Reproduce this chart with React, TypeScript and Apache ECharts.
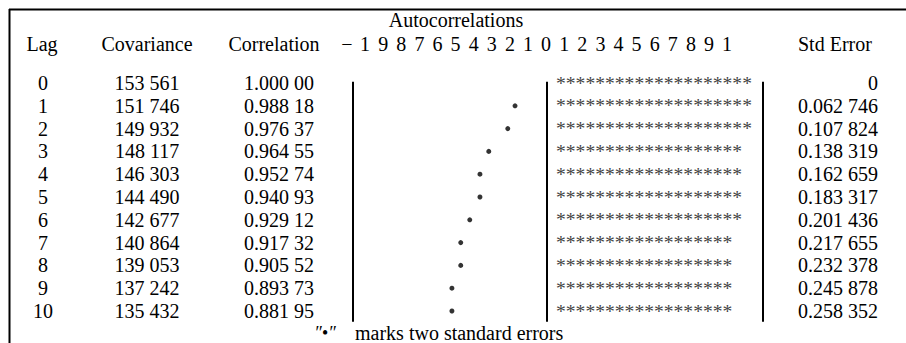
import React, { useEffect, useRef } from "react";
import * as echarts from "echarts";

const lags = [0, 1, 2, 3, 4, 5, 6, 7, 8, 9, 10];
const covariances = [153561, 151746, 149932, 148117, 146303, 144490, 142677, 140864, 139053, 137242, 135432];
const correlations = [1.0, 0.98818, 0.97637, 0.96455, 0.95274, 0.94093, 0.92912, 0.91732, 0.90552, 0.89373, 0.88195];
const stdErrors = [0, 0.062746, 0.107824, 0.138319, 0.162659, 0.183317, 0.201436, 0.217655, 0.232378, 0.245878, 0.258352];
const asteriskCounts = [20, 20, 20, 19, 19, 19, 19, 18, 18, 18, 18];
const twoStdErrMarks: (number | null)[] = [null, -0.158, -0.195, -0.292, -0.337, -0.337, -0.389, -0.435, -0.435, -0.48, -0.48];
const scaleLabels = ["−", "1", "9", "8", "7", "6", "5", "4", "3", "2", "1", "0", "1", "2", "3", "4", "5", "6", "7", "8", "9", "1"];
const columnHeaders = ["Lag", "Covariance", "Correlation", "Std Error"];
const titleText = "Autocorrelations";
const footnoteText = "marks two standard errors";

const FONT = "Liberation Serif, Times New Roman, serif";
const FS = 20;

function groupInt(n: number) {
  return String(n).replace(/\B(?=(\d{3})+(?!\d))/g, " ");
}
function groupDec(v: number, d: number) {
  if (v === 0 && d === 6) return "0";
  const s = v.toFixed(d);
  const [a, b] = s.split(".");
  return a + "." + b.slice(0, 3) + " " + b.slice(3);
}

export default function App() {
  const ref = useRef<HTMLDivElement>(null);
  useEffect(() => {
    const chart = echarts.init(ref.current!, null, { renderer: "svg" });
    const gridLeft = 350;
    const gridWidth = 392;
    const gridTop = 71.6;
    const gridHeight = 250.8;
    const lineTop = 81.7;
    const lineBottom = 321.7;
    const headerY = 44;
    const titleY = 20;
    const footY = 333;

    const tableData = lags.map((l, i) => [i, covariances[i], correlations[i], stdErrors[i], asteriskCounts[i]]);
    const dots = twoStdErrMarks
      .map((v, i) => (v === null ? null : [v, i]))
      .filter((d) => d !== null);

    const txt = (text: string, x: number, y: number, align: string, extra: any = {}) => ({
      type: "text",
      x,
      y,
      style: { text, fill: "#000", fontSize: FS, fontFamily: FONT, align, verticalAlign: "middle", ...extra },
    });

    const graphics: any[] = [
      { type: "line", shape: { x1: 9, y1: 9.5, x2: 906, y2: 9.5 }, style: { stroke: "#000", lineWidth: 2 } },
      { type: "line", shape: { x1: 9.5, y1: 9, x2: 9.5, y2: 343 }, style: { stroke: "#000", lineWidth: 2 } },
      { type: "line", shape: { x1: 353, y1: lineTop, x2: 353, y2: lineBottom }, style: { stroke: "#000", lineWidth: 2 } },
      { type: "line", shape: { x1: 547, y1: lineTop, x2: 547, y2: lineBottom }, style: { stroke: "#000", lineWidth: 2 } },
      { type: "line", shape: { x1: 763, y1: lineTop, x2: 763, y2: lineBottom }, style: { stroke: "#000", lineWidth: 2 } },
      txt(titleText, 456, titleY, "center"),
      txt(columnHeaders[0], 42, headerY, "center"),
      txt(columnHeaders[1], 147, headerY, "center"),
      txt(columnHeaders[2], 274, headerY, "center"),
      txt(columnHeaders[3], 798, headerY, "left"),
      ...scaleLabels.map((s, i) => txt(s, 347 + i * 18.1, headerY, "center")),
      txt("″•″", 325, footY, "center", { fontSize: 18, fontStyle: "italic" }),
      txt(footnoteText, 355, footY, "left"),
    ];

    chart.setOption({
      animation: false,
      grid: { left: gridLeft, width: gridWidth, top: gridTop, height: gridHeight },
      xAxis: { type: "value", min: -1, max: 1, show: false },
      yAxis: { type: "category", data: lags.map(String), inverse: true, show: false },
      graphic: graphics,
      series: [
        {
          type: "custom",
          data: tableData,
          renderItem: (params: any, api: any) => {
            const idx = api.value(0);
            const pt = api.coord([0, idx]);
            const y = pt[1];
            const zeroX = pt[0];
            const t = (text: string, x: number, align: string, extra: any = {}) => ({
              type: "text",
              x,
              y,
              style: { text, fill: "#000", fontSize: FS, fontFamily: FONT, align, verticalAlign: "middle", ...extra },
            });
            return {
              type: "group",
              children: [
                t(String(lags[idx]), 43, "center"),
                t(groupInt(api.value(1)), 147, "center"),
                t(groupDec(api.value(2), 5), 279, "center"),
                t(groupDec(api.value(3), 6), 878, "right"),
                t("*".repeat(api.value(4)), zeroX + 10, "left", { fill: "#444", fontSize: 19.6 }),
              ],
            };
          },
        },
        {
          type: "scatter",
          data: dots,
          symbol: "circle",
          symbolSize: 5,
          itemStyle: { color: "#000" },
        },
      ],
    });
    return () => chart.dispose();
  }, []);
  return <div ref={ref} style={{ position: "fixed", left: 0, top: 0, width: 906, height: 343, background: "#fff" }} />;
}
